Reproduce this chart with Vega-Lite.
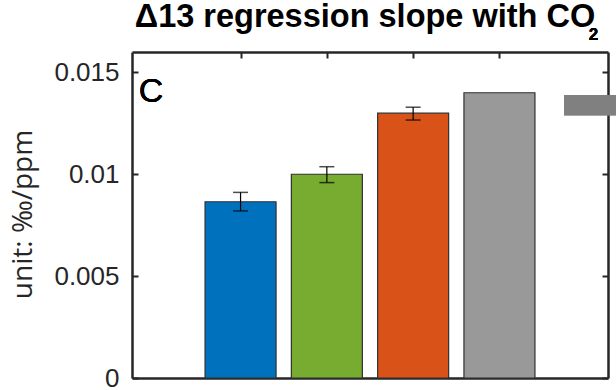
{
  "$schema": "https://vega.github.io/schema/vega-lite/v6.json",
  "width": 476,
  "height": 326,
  "autosize": "none",
  "padding": {"left": 132, "top": 52, "right": 8, "bottom": 12},
  "background": "white",
  "title": {
    "text": "Δ13 regression slope with CO",
    "font": "Liberation Sans",
    "fontSize": 32.5,
    "fontWeight": "bold",
    "color": "#000000",
    "anchor": "middle",
    "baseline": "alphabetic",
    "offset": -34,
    "dx": -5
  },
  "config": {
    "view": {"stroke": null},
    "axis": {
      "domainColor": "#262626",
      "domainWidth": 2.5,
      "tickColor": "#262626",
      "tickWidth": 2,
      "tickSize": -6,
      "grid": false,
      "labelFont": "Liberation Sans",
      "labelFontSize": 26,
      "labelColor": "#262626",
      "titleColor": "#262626"
    }
  },
  "data": {
    "values": [
      {"pos": 1, "group": "A", "value": 0.00865, "lo": 0.0082, "hi": 0.00911},
      {"pos": 2, "group": "B", "value": 0.0100, "lo": 0.00959, "hi": 0.01037},
      {"pos": 3, "group": "C", "value": 0.0130, "lo": 0.01266, "hi": 0.01329},
      {"pos": 4, "group": "D", "value": 0.0140}
    ]
  },
  "layer": [
    {
      "mark": {"type": "bar", "size": 71, "stroke": "#303030", "strokeWidth": 1.2},
      "encoding": {
        "x": {
          "field": "pos", "type": "quantitative",
          "scale": {"domain": [-0.2, 5.2], "nice": false, "zero": false},
          "axis": {"orient": "bottom", "values": [1, 2, 3, 4], "labels": false, "title": null}
        },
        "y": {
          "field": "value", "type": "quantitative",
          "scale": {"domain": [0, 0.016], "nice": false},
          "axis": {
            "orient": "left", "values": [0, 0.005, 0.01, 0.015], "format": "~g",
            "labelPadding": 19,
            "title": "unit: ‰/ppm",
            "titleFont": "Open Sans", "titleFontSize": 28, "titleFontWeight": "normal",
            "titleX": -109, "titleY": 162, "titleAngle": -90, "titleBaseline": "middle", "titleAlign": "center"
          }
        },
        "color": {
          "field": "group", "type": "nominal",
          "scale": {"domain": ["A", "B", "C", "D"], "range": ["#0072BD", "#77AC30", "#D95319", "#999999"]},
          "legend": null
        }
      }
    },
    {
      "mark": {"type": "rule", "color": "#000000", "strokeWidth": 1.2},
      "encoding": {
        "x": {"field": "pos", "type": "quantitative",
          "axis": {"orient": "top", "values": [1, 2, 3, 4], "labels": false, "title": null}},
        "y": {"field": "lo", "type": "quantitative",
          "axis": {"orient": "right", "values": [0, 0.005, 0.01, 0.015], "labels": false, "title": null}},
        "y2": {"field": "hi"}
      }
    },
    {
      "mark": {"type": "tick", "orient": "horizontal", "size": 15, "thickness": 1.5, "color": "#000000"},
      "encoding": {
        "x": {"field": "pos", "type": "quantitative", "axis": null},
        "y": {"field": "lo", "type": "quantitative", "axis": null}
      }
    },
    {
      "mark": {"type": "tick", "orient": "horizontal", "size": 15, "thickness": 1.5, "color": "#000000"},
      "encoding": {
        "x": {"field": "pos", "type": "quantitative", "axis": null},
        "y": {"field": "hi", "type": "quantitative", "axis": null}
      }
    },
    {
      "mark": {"type": "rect", "color": "#808080", "clip": false},
      "encoding": {
        "x": {"datum": 4.75, "type": "quantitative", "axis": null},
        "x2": {"datum": 5.35},
        "y": {"datum": 0.01289, "type": "quantitative", "axis": null},
        "y2": {"datum": 0.01389}
      }
    },
    {
      "mark": {"type": "text", "text": "C", "font": "Liberation Sans", "fontSize": 34, "align": "left", "baseline": "alphabetic", "color": "#000000"},
      "encoding": {
        "x": {"datum": -0.18, "type": "quantitative", "axis": null},
        "y": {"datum": 0.01357, "type": "quantitative", "axis": null}
      }
    },
    {
      "mark": {"type": "text", "text": "2", "font": "Liberation Sans", "fontSize": 17, "fontWeight": "bold", "align": "left", "baseline": "alphabetic", "color": "#000000", "clip": false},
      "encoding": {
        "x": {"datum": 5.035, "type": "quantitative", "axis": null},
        "y": {"datum": 0.01659, "type": "quantitative", "axis": null}
      }
    }
  ],
  "resolve": {"axis": {"x": "independent", "y": "independent"}}
}
